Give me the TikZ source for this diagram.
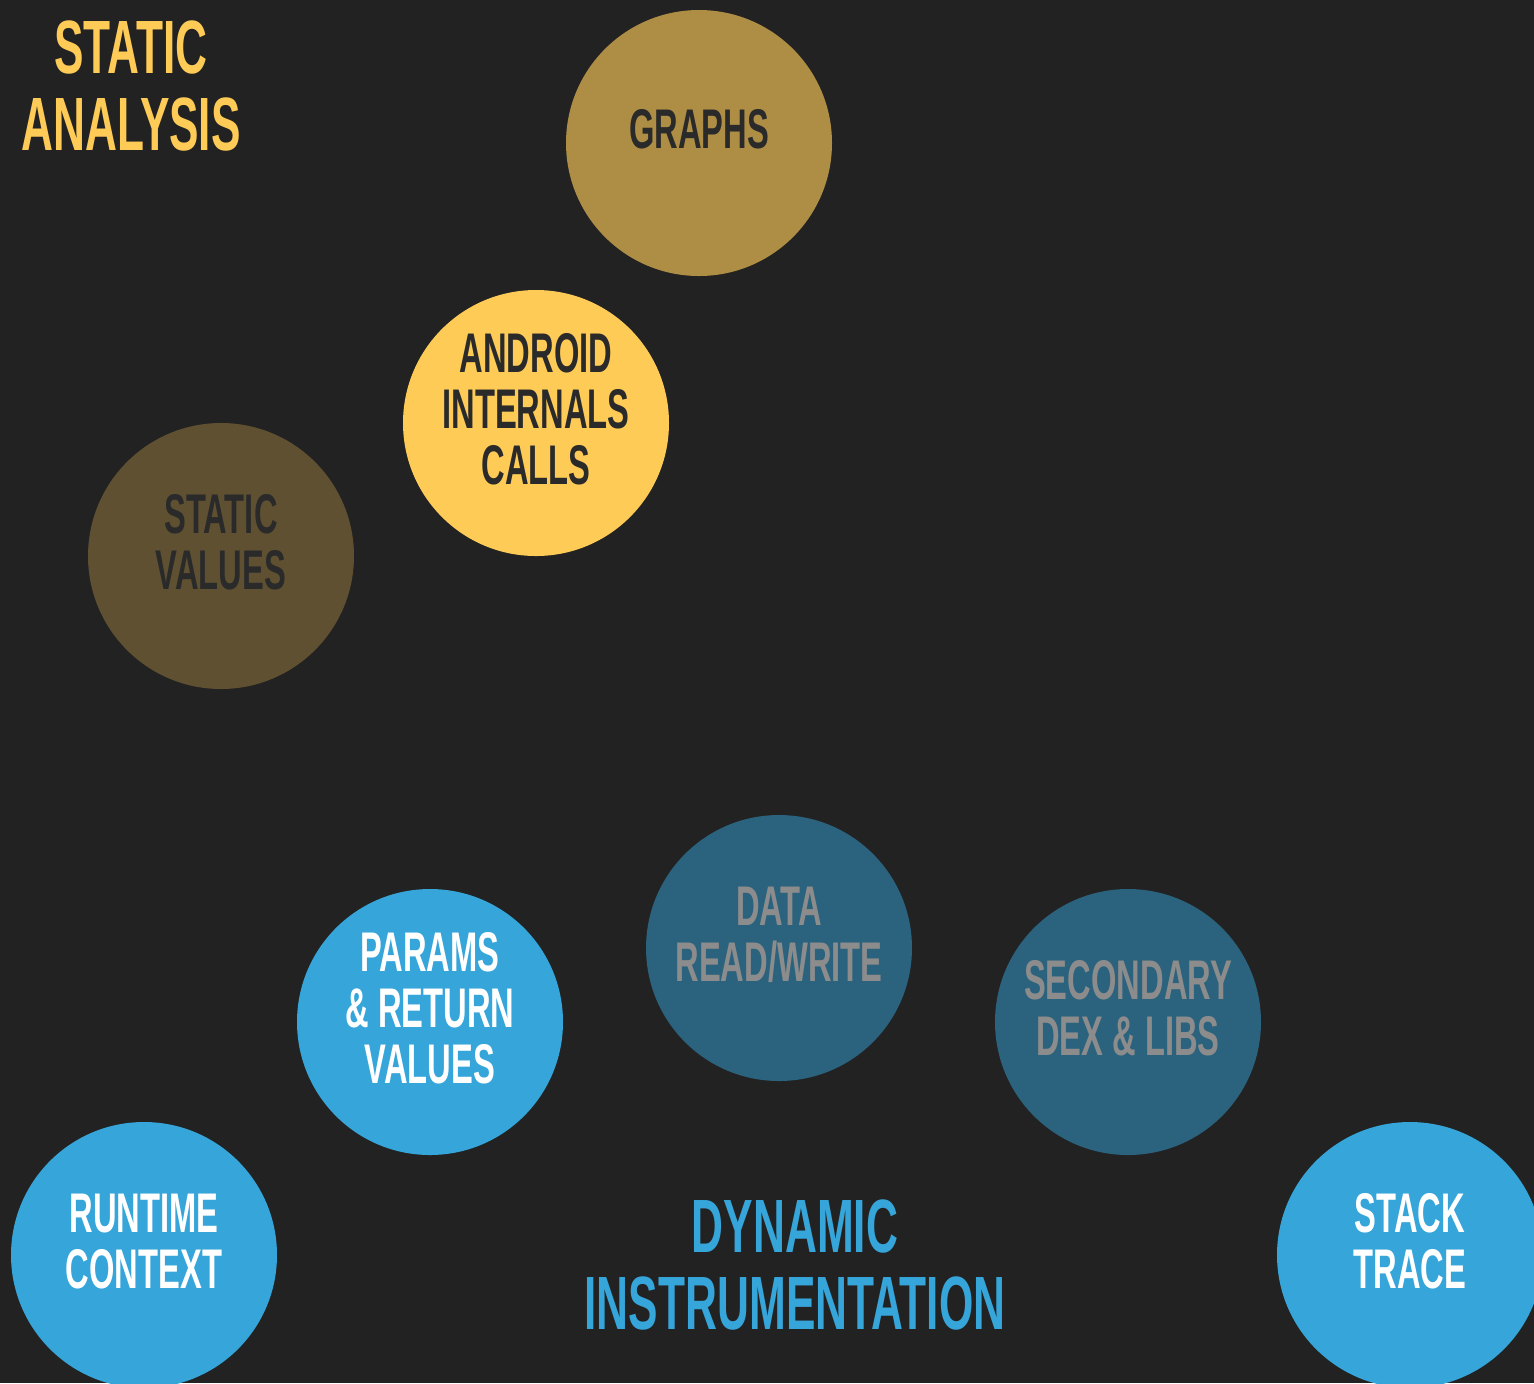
\documentclass[tikz,border=0pt]{standalone}
\usepackage{fontspec}
\newfontfamily\dinfont[FakeStretch=0.585]{Liberation Sans}

\definecolor{bgdark}{HTML}{222222}
\definecolor{statyellow}{HTML}{FECB57}
\definecolor{goldmid}{HTML}{AE8E45}
\definecolor{golddark}{HTML}{5E5031}
\definecolor{dynblue}{HTML}{35A5DA}
\definecolor{bluedark}{HTML}{2B627D}
\definecolor{inkdark}{HTML}{2A2A2A}
\definecolor{inkgray}{HTML}{8C8C8C}

\begin{document}
\begin{tikzpicture}[x=0.1mm,y=-0.1mm,
        bubble/.style={circle,minimum size=26.6mm,inner sep=0pt},
        bubbletext/.style={align=center,inner sep=0pt,
            font=\dinfont\bfseries\fontsize{15.9}{15.9}\selectfont},
        headline/.style={align=center,inner sep=0pt,
            font=\dinfont\bfseries\fontsize{21.5}{21.9}\selectfont}]
        % draw the background
        \useasboundingbox (0,0) rectangle (1534,1383);
        \clip (0,0) rectangle (1534,1383);
        \fill[bgdark] (0,0) rectangle (1534,1383);

        % draw the headlines
        \node[headline,text=statyellow] (static) at (131,86) {STATIC\\ANALYSIS};
        \node[headline,text=dynblue] (dynamic) at (795,1265) {DYNAMIC\\INSTRUMENTATION};

        % draw the bubbles
        \foreach \name/\x/\y/\fillcol/\textcol/\txt in {
            % the static side
            graphs/699/143/goldmid/inkdark/{GRAPHS},
            android/536/423/statyellow/inkdark/{ANDROID\\INTERNALS\\CALLS},
            values/221/556/golddark/inkdark/{STATIC\\VALUES},
            % the dynamic side
            data/779/948/bluedark/inkgray/{DATA\\READ/WRITE},
            params/430/1022/dynblue/white/{PARAMS\\\& RETURN\\VALUES},
            secondary/1128/1022/bluedark/inkgray/{SECONDARY\\DEX \& LIBS},
            runtime/144/1255/dynblue/white/{RUNTIME\\CONTEXT},
            stack/1410/1255/dynblue/white/{STACK\\TRACE}}
        {
                % the disc
                \node[bubble,fill=\fillcol] (\name) at (\x,\y) {};
                % its label, a bit above the middle
                \node[bubbletext,text=\textcol] (\name-label) at ([yshift=1.35mm]\name) {\txt};
        }
\end{tikzpicture}
\end{document}
